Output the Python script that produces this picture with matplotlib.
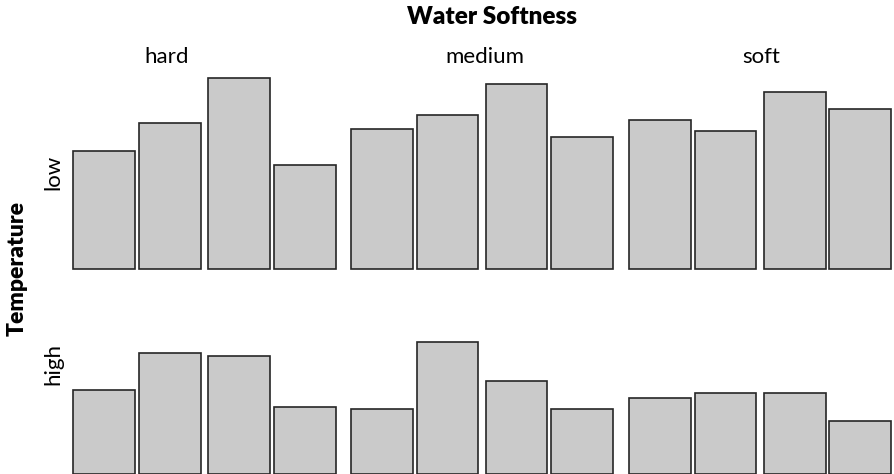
import matplotlib
matplotlib.use("Agg")
import matplotlib.pyplot as plt

# detergent preference counts, per water softness and temperature
# bar order: brand M (no previous use), brand M (previous use),
#            brand X (no previous use), brand X (previous use)
softness = ["hard", "medium", "soft"]
temperature = ["low", "high"]
counts_low = {
    "hard": [42, 52, 68, 37],
    "medium": [50, 55, 66, 47],
    "soft": [53, 49, 63, 57],
}
counts_high = {
    "hard": [30, 43, 42, 24],
    "medium": [23, 47, 33, 23],
    "soft": [27, 29, 29, 19],
}
counts = {"low": counts_low, "high": counts_high}

W, H = 894, 474
fig = plt.figure(figsize=(W / 100, H / 100), dpi=100)
plt.rcParams["font.family"] = ["Lato", "DejaVu Sans"]

def px_axes(x0, y0, x1, y1):
    # pixel box measured from top-left corner of the figure
    return fig.add_axes([x0 / W, 1 - y1 / H, (x1 - x0) / W, (y1 - y0) / H])

cell_x = [(73, 336), (351, 613), (629, 891)]
row_y = [(64, 269), (269, 474)]
ymax = 73.0

g_small, g_big = 4 / 62, 8 / 62
pos = [0.5, 1.5 + g_small, 2.5 + g_small + g_big, 3.5 + 2 * g_small + g_big]

for r, temp in enumerate(temperature):
    for c, soft in enumerate(softness):
        ax = px_axes(cell_x[c][0], row_y[r][0], cell_x[c][1], row_y[r][1])
        bars = ax.bar(pos, counts[temp][soft], width=1.0, color="#cacaca",
                      edgecolor="#262626", linewidth=1.2)
        for b in bars:
            b.set_clip_on(False)
        ax.set_xlim(0, 4 + 2 * g_small + g_big)
        ax.set_ylim(0, ymax)
        ax.axis("off")

def ftext(x, y, s, **kw):
    fig.text(x / W, 1 - y / H, s, ha="center", va="center", **kw)

ftext(492, 17, "Water Softness", fontsize=17.5, fontweight="heavy")
ftext(167, 57, "hard", fontsize=16)
ftext(485, 57, "medium", fontsize=16)
ftext(761, 57, "soft", fontsize=16)
ftext(17, 268, "Temperature", fontsize=16.5, fontweight="heavy", rotation=90)
ftext(53, 172, "low", fontsize=16, rotation=90)
ftext(53, 364, "high", fontsize=16, rotation=90)

fig.savefig("out.png", dpi=100)
